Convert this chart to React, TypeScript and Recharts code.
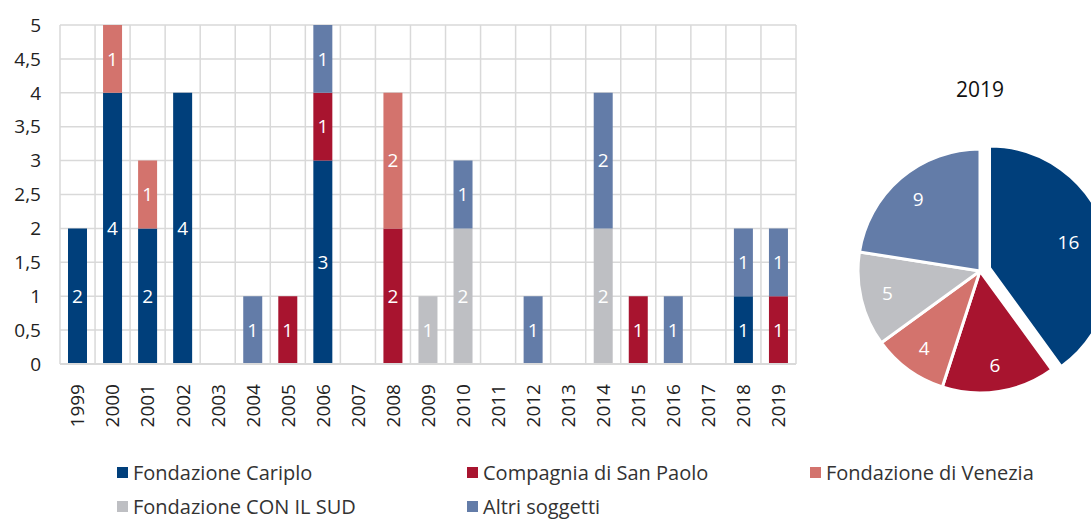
import {
  Bar,
  BarChart,
  CartesianGrid,
  Cell,
  LabelList,
  Pie,
  PieChart,
  XAxis,
  YAxis,
} from 'recharts'

const years = [
  '1999', '2000', '2001', '2002', '2003', '2004', '2005', '2006', '2007', '2008', '2009',
  '2010', '2011', '2012', '2013', '2014', '2015', '2016', '2017', '2018', '2019',
]
// null = no bar segment for that year
const cariplo = [2, 4, 2, 4, null, null, null, 3, null, null, null, null, null, null, null, null, null, null, null, 1, null]
const sanPaolo = [null, null, null, null, null, null, 1, 1, null, 2, null, null, null, null, null, null, 1, null, null, null, 1]
const venezia = [null, 1, 1, null, null, null, null, null, null, 2, null, null, null, null, null, null, null, null, null, null, null]
const conIlSud = [null, null, null, null, null, null, null, null, null, null, 1, 2, null, null, null, 2, null, null, null, null, null]
const altri = [null, null, null, null, null, 1, null, 1, null, null, null, 1, null, 1, null, 2, null, 1, null, 1, 1]

const yTicks = [0, 0.5, 1, 1.5, 2, 2.5, 3, 3.5, 4, 4.5, 5]

const seriesNames = [
  'Fondazione Cariplo',
  'Compagnia di San Paolo',
  'Fondazione di Venezia',
  'Fondazione CON IL SUD',
  'Altri soggetti',
]
const seriesKeys = ['cariplo', 'sanPaolo', 'venezia', 'conIlSud', 'altri']
const colors = ['#003F7B', '#A8142F', '#D3736D', '#BEBFC3', '#637CA8']

const pieTitle = '2019'
const pieValues = [16, 6, 4, 5, 9]

const FONT = '"Open Sans", Lato, sans-serif'
const GRID = '#D9D9D9'

const data = years.map((year, i) => ({
  year,
  cariplo: cariplo[i],
  sanPaolo: sanPaolo[i],
  venezia: venezia[i],
  conIlSud: conIlSud[i],
  altri: altri[i],
}))

const pieData = seriesNames.map((name, i) => ({ name, value: pieValues[i] }))

const YearTick = ({ x, y, payload }: { x?: number; y?: number; payload?: { value: string } }) => (
  <g transform={`translate(${x},${y})`}>
    <text
      transform="rotate(-90)"
      x={-12}
      dy="0.36em"
      textAnchor="end"
      fill="#222"
      fontSize={19}
      fontFamily={FONT}
    >
      {payload?.value}
    </text>
  </g>
)

const RADIAN = Math.PI / 180

// draws the value label only for the slices the given pie is showing
const makePieLabel = (visible: (i: number) => boolean) => (props: any) => {
  const { cx, cy, midAngle, outerRadius, value, index } = props
  if (!visible(index)) return null
  const r = outerRadius * (index === 0 ? 0.68 : 0.78)
  const x = cx + r * Math.cos(-midAngle * RADIAN)
  const y = cy + r * Math.sin(-midAngle * RADIAN)
  return (
    <text
      x={x}
      y={y}
      fill="#fff"
      fontSize={19}
      fontFamily={FONT}
      textAnchor="middle"
      dominantBaseline="central"
    >
      {value}
    </text>
  )
}

const PIE_CX = 145
const PIE_CY = 206
const PIE_R = 122
const EXPLODE = 10
const explodeAngle = 90 - (pieValues[0] / pieValues.reduce((a, b) => a + b, 0)) * 180

export default function App() {
  return (
    <div
      style={{
        position: 'absolute',
        left: 0,
        top: 0,
        width: 1091,
        height: 520,
        overflow: 'hidden',
        background: '#fff',
        fontFamily: FONT,
      }}
    >
      <BarChart
        width={820}
        height={440}
        data={data}
        margin={{ top: 25, right: 24, left: 0, bottom: 0 }}
        barSize={19}
      >
        <CartesianGrid
          stroke={GRID}
          strokeWidth={1.5}
          verticalCoordinatesGenerator={({ offset }: any) =>
            Array.from({ length: years.length + 1 }, (_, i) => offset.left + (i * offset.width) / years.length)
          }
        />
        <XAxis
          dataKey="year"
          interval={0}
          height={76}
          tickLine={false}
          axisLine={{ stroke: GRID, strokeWidth: 2 }}
          tick={<YearTick />}
        />
        <YAxis
          width={60}
          domain={[0, 5]}
          ticks={yTicks}
          tickLine={false}
          axisLine={false}
          tickSize={0}
          tickMargin={19}
          tick={{ fontSize: 19, fill: '#222', fontFamily: FONT }}
          tickFormatter={(v: number) => String(v).replace('.', ',')}
        />
        {seriesKeys.map((key, i) => (
          <Bar key={key} dataKey={key} name={seriesNames[i]} stackId="a" fill={colors[i]} isAnimationActive={false}>
            <LabelList dataKey={key} position="center" fill="#fff" fontSize={19} fontFamily={FONT} />
          </Bar>
        ))}
      </BarChart>

      <div
        style={{
          position: 'absolute',
          left: 830,
          top: 75,
          width: 300,
          textAlign: 'center',
          fontSize: 21,
          color: '#111',
        }}
      >
        {pieTitle}
      </div>

      <PieChart width={300} height={420} style={{ position: 'absolute', left: 830, top: 60 }}>
        <Pie
          data={pieData}
          dataKey="value"
          cx={PIE_CX}
          cy={PIE_CY}
          outerRadius={PIE_R}
          startAngle={90}
          endAngle={-270}
          stroke="#fff"
          strokeWidth={3}
          labelLine={false}
          label={makePieLabel((i) => i !== 0)}
          isAnimationActive={false}
        >
          {pieData.map((d, i) => (
            <Cell key={d.name} fill={i === 0 ? 'transparent' : colors[i]} stroke={i === 0 ? 'none' : '#fff'} />
          ))}
        </Pie>
        <Pie
          data={pieData}
          dataKey="value"
          cx={PIE_CX + EXPLODE * Math.cos(explodeAngle * RADIAN)}
          cy={PIE_CY - EXPLODE * Math.sin(explodeAngle * RADIAN)}
          outerRadius={PIE_R}
          startAngle={90}
          endAngle={-270}
          stroke="#fff"
          strokeWidth={3}
          labelLine={false}
          label={makePieLabel((i) => i === 0)}
          isAnimationActive={false}
        >
          {pieData.map((d, i) => (
            <Cell key={d.name} fill={i === 0 ? colors[0] : 'transparent'} stroke={i === 0 ? '#fff' : 'none'} />
          ))}
        </Pie>
      </PieChart>

      {seriesNames.map((name, i) => (
        <div
          key={name}
          style={{
            position: 'absolute',
            left: [117, 467, 810][i % 3],
            top: i < 3 ? 459 : 493,
            display: 'flex',
            alignItems: 'center',
            fontSize: 20,
            color: '#333',
            whiteSpace: 'nowrap',
          }}
        >
          <span style={{ width: 11, height: 11, background: colors[i], marginRight: 5, display: 'inline-block' }} />
          {name}
        </div>
      ))}
    </div>
  )
}
